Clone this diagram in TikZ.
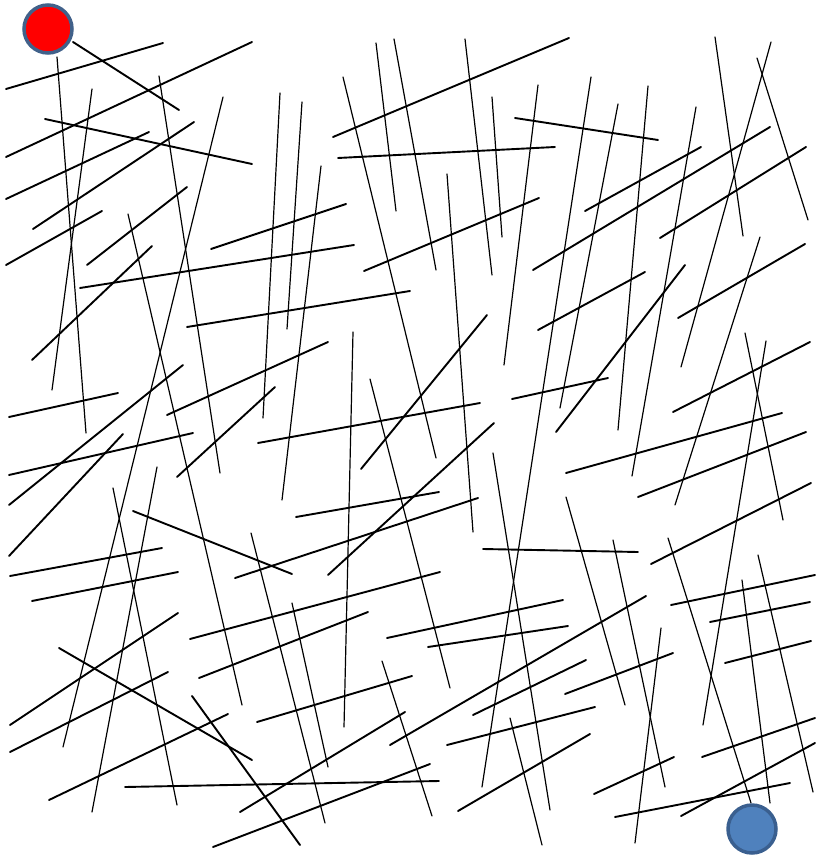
\documentclass[tikz,border=0pt]{standalone}
\begin{document}
\begin{tikzpicture}[x=1pt,y=-1pt,
  thickseg/.style={line width=1.9pt,black,line cap=round},
  thinseg/.style={line width=1.2pt,black,line cap=round},
  marker/.style={circle,inner sep=0pt,minimum size=48pt,line width=3.5pt}]
\useasboundingbox (0,0) rectangle (818,858);
\fill[white] (0,0) rectangle (818,858);
% thin (steep) segments
\foreach \a/\b/\c/\d in {
 57/57/86/433, 92/89/52/390, 159/76/220/473, 223/97/63/747, 128/214/242/705,
 113/488/177/805, 157/467/92/812, 280/93/263/418, 302/102/287/329, 321/166/282/500,
 343/77/436/458, 376/43/396/211, 394/39/436/270, 465/39/492/275, 492/97/502/237,
 538/85/504/365, 447/174/473/532, 591/77/482/787, 618/104/560/408, 648/86/618/430,
 696/107/632/476, 715/37/743/236, 771/42/681/367, 760/237/675/505, 757/58/808/220,
 745/333/783/520, 766/341/703/725, 566/497/625/705, 613/540/665/787, 668/538/751/803,
 758/555/813/792, 742/580/770/803, 661/628/635/843, 493/453/550/810, 510/718/542/845,
 251/533/325/823, 292/603/328/767, 353/332/344/727, 370/379/450/688, 382/661/432/816}
 \draw[thinseg] (\a,\b) -- (\c,\d);
% thick (shallow) segments
\foreach \a/\b/\c/\d in {
 73/42/179/110, 6/89/163/43, 6/157/252/42, 45/119/252/164, 6/199/149/132,
 33/229/194/122, 6/265/102/211, 87/265/187/187, 152/246/32/360, 211/249/346/204,
 80/288/354/245, 333/137/569/38, 338/158/555/147, 364/271/539/198, 515/118/658/140,
 533/270/770/127, 585/211/701/147, 660/238/806/147, 685/265/556/432, 645/272/538/330,
 805/244/678/318, 512/399/608/378, 673/412/810/342, 566/473/782/413, 638/497/806/432,
 651/564/811/483, 483/549/638/552, 671/605/815/575, 387/638/563/600, 428/647/568/626,
 390/745/646/596, 473/715/586/660, 565/694/673/653, 447/745/595/707, 458/811/590/734,
 594/794/674/757, 615/817/790/783, 681/816/815/743, 702/757/815/718, 725/663/811/641,
 710/622/810/602, 190/639/440/572, 199/678/368/612, 257/722/412/676, 240/812/405/712,
 213/847/430/764, 125/787/439/781, 192/696/300/845, 10/576/162/548, 32/601/178/572,
 235/578/478/498, 10/725/178/613, 10/752/168/672, 59/648/252/760, 49/800/228/714,
 187/327/410/291, 9/417/118/393, 9/505/183/365, 9/475/193/433, 9/556/123/434,
 167/415/328/342, 177/477/275/387, 258/443/480/403, 133/511/292/574, 361/469/487/315,
 328/575/494/423, 296/517/439/492}
 \draw[thickseg] (\a,\b) -- (\c,\d);
\node[marker,draw={rgb,255:red,65;green,97;blue,138},fill=red] (start) at (48,29) {};
\node[marker,draw={rgb,255:red,58;green,95;blue,143},fill={rgb,255:red,79;green,129;blue,189}] (goal) at (752,829) {};
\end{tikzpicture}
\end{document}
